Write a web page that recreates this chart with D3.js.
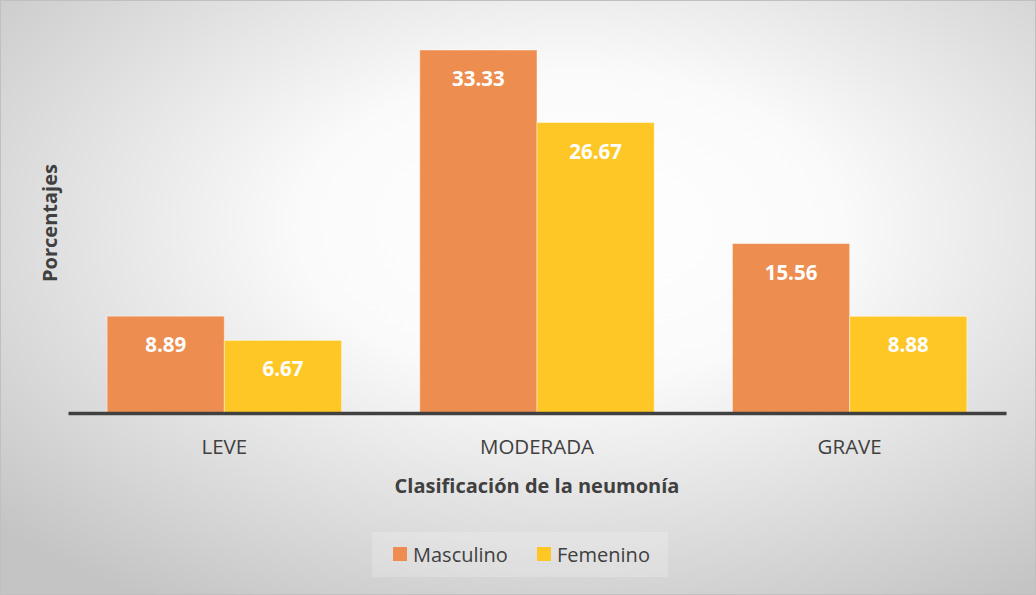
<!DOCTYPE html>
<html>
<head>
<meta charset="utf-8">
<script src="https://cdn.jsdelivr.net/npm/d3@7"></script>
<style>
  body { margin: 0; background: #fff; }
  svg { display: block; font-family: "Open Sans", sans-serif; }
</style>
</head>
<body>
<svg id="chart"></svg>
<script>
// data
var categorias = ['LEVE', 'MODERADA', 'GRAVE'];
var series = ['Masculino', 'Femenino'];
var masculino = [8.89, 33.33, 15.56];
var femenino = [6.67, 26.67, 8.88];

var width = 1036, height = 595;
var margin = { top: 50, left: 68, right: 30, bottom: 182 };
var colores = { Masculino: '#ED8E50', Femenino: '#FFC726' };

var svg = d3.select('#chart').attr('width', width).attr('height', height);

// fondo con degradado radial
var defs = svg.append('defs');
var grad = defs.append('radialGradient')
	.attr('id', 'fondo')
	.attr('cx', '55%').attr('cy', '38%').attr('r', '75%');
grad.append('stop').attr('offset', '0%').attr('stop-color', '#ffffff');
grad.append('stop').attr('offset', '35%').attr('stop-color', '#fafafa');
grad.append('stop').attr('offset', '100%').attr('stop-color', '#c4c4c4');

svg.append('rect')
	.attr('x', 0.5).attr('y', 0.5)
	.attr('width', width - 1).attr('height', height - 1)
	.attr('fill', 'url(#fondo)')
	.attr('stroke', '#c0c0c0');

var filas = categorias.map((c, i) => ({ cat: c, Masculino: masculino[i], Femenino: femenino[i] }));

// Scales
var x0 = d3.scaleBand()
	.domain(categorias)
	.range([margin.left, width - margin.right])
	.paddingInner(0.25)
	.paddingOuter(0.125);

var x1 = d3.scaleBand()
	.domain(series)
	.range([0, x0.bandwidth()]);

var baseY = height - margin.bottom;
var yScale = d3.scaleLinear()
	.domain([0, d3.max(masculino.concat(femenino))])
	.range([baseY, margin.top]);

// barras
var grupos = svg.selectAll('g.cat')
	.data(filas)
	.enter()
	.append('g')
	.attr('class', 'cat')
	.attr('transform', d => `translate(${x0(d.cat)},0)`);

grupos.selectAll('rect')
	.data(d => series.map(s => ({ serie: s, valor: d[s] })))
	.enter()
	.append('rect')
	.attr('x', d => x1(d.serie))
	.attr('y', d => yScale(d.valor))
	.attr('width', x1.bandwidth())
	.attr('height', d => baseY - yScale(d.valor))
	.attr('fill', d => colores[d.serie])
	.attr('stroke', 'rgba(255,255,255,0.45)')
	.attr('stroke-width', 1);

grupos.selectAll('text')
	.data(d => series.map(s => ({ serie: s, valor: d[s] })))
	.enter()
	.append('text')
	.attr('x', d => x1(d.serie) + x1.bandwidth() / 2)
	.attr('y', d => yScale(d.valor) + 36)
	.attr('text-anchor', 'middle')
	.attr('fill', '#fff')
	.attr('font-weight', 'bold')
	.attr('font-size', '20.5px')
	.text(d => d.valor.toFixed(2));

// eje x
var xAxis = d3.axisBottom(x0).tickSize(0).tickPadding(26);
var ejeX = svg.append('g')
	.attr('id', 'eje_x')
	.attr('transform', `translate(0,${baseY})`)
	.call(xAxis);
ejeX.select('.domain')
	.attr('stroke', '#404040')
	.attr('stroke-width', 3.5);
ejeX.selectAll('.tick text')
	.attr('font-family', '"Open Sans", sans-serif')
	.attr('font-size', '20.5px')
	.attr('fill', '#404040');

// titulos
svg.append('text')
	.attr('x', 537).attr('y', 493)
	.attr('text-anchor', 'middle')
	.attr('font-weight', 'bold')
	.attr('font-size', '20px')
	.attr('fill', '#404040')
	.text('Clasificación de la neumonía');

svg.append('text')
	.attr('transform', 'translate(57,223) rotate(-90)')
	.attr('text-anchor', 'middle')
	.attr('font-weight', 'bold')
	.attr('font-size', '20px')
	.attr('fill', '#404040')
	.text('Porcentajes');

// leyenda
var leyenda = svg.append('g').attr('id', 'leyenda');
leyenda.append('rect')
	.attr('x', 372).attr('y', 532)
	.attr('width', 296).attr('height', 45)
	.attr('fill', 'rgba(255,255,255,0.2)');

var legX = [393, 537];
var items = leyenda.selectAll('g.item')
	.data(series)
	.enter()
	.append('g')
	.attr('class', 'item')
	.attr('transform', (d, i) => `translate(${legX[i]},547)`);
items.append('rect')
	.attr('width', 14).attr('height', 14)
	.attr('fill', d => colores[d]);
items.append('text')
	.attr('x', 20).attr('y', 15)
	.attr('font-size', '20px')
	.attr('fill', '#404040')
	.text(d => d);
</script>
</body>
</html>
